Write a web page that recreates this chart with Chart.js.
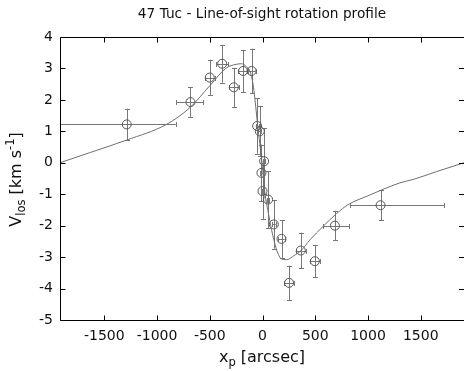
<!DOCTYPE html>
<html>
<head>
<meta charset="utf-8">
<script src="https://cdn.jsdelivr.net/npm/chart.js@4/dist/chart.umd.min.js"></script>
<style>
html,body{margin:0;padding:0;background:#fff;}
#wrap{width:464px;height:371px;position:relative;}
</style>
</head>
<body>
<div id="wrap"><canvas id="c" width="464" height="371"></canvas></div>
<script>
const titleText = "47 Tuc - Line-of-sight rotation profile";
const xVals = [-1287, -683, -500, -383, -272, -184, -104, -51, -26, -10, 0, 15, 53, 107, 180, 252, 363, 496, 686, 1119];
const yVals = [1.22, 1.93, 2.71, 3.15, 2.40, 2.92, 2.92, 1.17, 1.00, -0.32, -0.90, 0.05, -1.17, -1.96, -2.42, -3.82, -2.79, -3.13, -2.00, -1.35];
const yErr  = [0.50, 0.47, 0.57, 0.60, 0.62, 0.67, 0.71, 0.88, 0.80, 0.90, 0.90, 1.05, 0.90, 0.77, 0.60, 0.55, 0.57, 0.51, 0.47, 0.47];
const xLow  = [-2100, -816, -547, -437, -320, -230, -145, -65, -40, -20, -8, 5, 40, 90, 150, 205, 313, 446, 575, 828];
const xHigh = [-822, -564, -453, -326, -225, -140, -65, -37, -12, 0, 8, 25, 66, 124, 210, 300, 413, 546, 819, 1723];
const modelX = [-1920, -1640, -1290, -911, -690, -500, -342, -250, -199, -150, -120, -90, -73, -57, -42, -20, -5, 22, 53, 85, 133, 180, 230, 300, 363, 450, 575, 700, 812, 1000, 1302, 1429, 1650, 1910];
const modelY = [0.00, 0.32, 0.72, 1.22, 1.75, 2.45, 3.02, 3.13, 3.15, 3.05, 2.92, 2.50, 2.05, 1.55, 1.06, 0.45, 0.00, -0.95, -1.55, -2.12, -2.76, -3.06, -3.08, -2.95, -2.80, -2.45, -2.02, -1.62, -1.33, -1.05, -0.64, -0.53, -0.28, 0.00];
const xTicks = [-1500, -1000, -500, 0, 500, 1000, 1500];
const yTicks = [-5, -4, -3, -2, -1, 0, 1, 2, 3, 4];

const FONT = "'DejaVu Sans', 'Liberation Sans', sans-serif";

const framePlugin = {
  id: 'frame',
  beforeDatasetsDraw(chart) {
    const ctx = chart.ctx, a = chart.chartArea;
    const xs = chart.scales.x, ys = chart.scales.y;
    ctx.save();
    ctx.beginPath();
    ctx.rect(a.left, a.top, a.right - a.left, a.bottom - a.top);
    ctx.clip();
    ctx.strokeStyle = '#777';
    ctx.lineWidth = 1;
    ctx.beginPath();
    for (let i = 0; i < xVals.length; i++) {
      const px = xs.getPixelForValue(xVals[i]);
      const py = ys.getPixelForValue(yVals[i]);
      const pyT = ys.getPixelForValue(yVals[i] + yErr[i]);
      const pyB = ys.getPixelForValue(yVals[i] - yErr[i]);
      const pxL = xs.getPixelForValue(xLow[i]);
      const pxR = xs.getPixelForValue(xHigh[i]);
      const cx = Math.round(px) + 0.5, cy = Math.round(py) + 0.5;
      ctx.moveTo(cx, pyT); ctx.lineTo(cx, pyB);
      ctx.moveTo(cx - 2.5, Math.round(pyT) + 0.5); ctx.lineTo(cx + 2.5, Math.round(pyT) + 0.5);
      ctx.moveTo(cx - 2.5, Math.round(pyB) + 0.5); ctx.lineTo(cx + 2.5, Math.round(pyB) + 0.5);
      ctx.moveTo(pxL, cy); ctx.lineTo(pxR, cy);
      ctx.moveTo(Math.round(pxL) + 0.5, cy - 2.5); ctx.lineTo(Math.round(pxL) + 0.5, cy + 2.5);
      ctx.moveTo(Math.round(pxR) + 0.5, cy - 2.5); ctx.lineTo(Math.round(pxR) + 0.5, cy + 2.5);
    }
    ctx.stroke();
    ctx.restore();
  },
  afterDraw(chart) {
    const ctx = chart.ctx, a = chart.chartArea;
    const xs = chart.scales.x, ys = chart.scales.y;
    ctx.save();
    ctx.strokeStyle = '#000';
    ctx.lineWidth = 1;
    const L = a.left + 0.5, R = a.right - 0.5, T = a.top + 0.5, B = a.bottom + 0.5;
    ctx.beginPath();
    ctx.moveTo(L, T); ctx.lineTo(R + 1, T);
    ctx.moveTo(L, T); ctx.lineTo(L, B);
    ctx.moveTo(L, B); ctx.lineTo(R + 1, B);
    const tl = 5;
    xTicks.forEach(v => {
      const p = Math.round(xs.getPixelForValue(v)) + 0.5;
      ctx.moveTo(p, B); ctx.lineTo(p, B - tl);
      ctx.moveTo(p, T); ctx.lineTo(p, T + tl);
    });
    yTicks.forEach(v => {
      const p = Math.round(ys.getPixelForValue(v)) + 0.5;
      ctx.moveTo(L, p); ctx.lineTo(L + tl, p);
      ctx.moveTo(a.right, p); ctx.lineTo(a.right - tl, p);
    });
    ctx.stroke();

    ctx.fillStyle = '#111';
    ctx.textBaseline = 'alphabetic';
    ctx.textAlign = 'center';
    ctx.font = "13.7px " + FONT;
    ctx.fillText(titleText, (a.left + a.right) / 2, 17.5);

    ctx.textAlign = 'left';
    const big = "16px " + FONT, small = "11.5px " + FONT;
    ctx.font = big; const w1 = ctx.measureText('x').width;
    ctx.font = small; const w2 = ctx.measureText('p').width;
    ctx.font = big; const w3 = ctx.measureText(' [arcsec]').width;
    let x0 = (a.left + a.right) / 2 - (w1 + w2 + w3) / 2;
    const by = 362;
    ctx.font = big; ctx.fillText('x', x0, by);
    ctx.font = small; ctx.fillText('p', x0 + w1, by + 4);
    ctx.font = big; ctx.fillText(' [arcsec]', x0 + w1 + w2, by);

    ctx.save();
    ctx.translate(20.5, (a.top + a.bottom) / 2 + 1);
    ctx.rotate(-Math.PI / 2);
    ctx.font = big; const v1 = ctx.measureText('V').width;
    ctx.font = small; const v2 = ctx.measureText('los').width;
    ctx.font = big; const v3 = ctx.measureText(' [km s').width;
    ctx.font = small; const v4 = ctx.measureText('-1').width;
    ctx.font = big; const v5 = ctx.measureText(']').width;
    let s0 = -(v1 + v2 + v3 + v4 + v5) / 2;
    ctx.font = big; ctx.fillText('V', s0, 0); s0 += v1;
    ctx.font = small; ctx.fillText('los', s0, 4); s0 += v2;
    ctx.font = big; ctx.fillText(' [km s', s0, 0); s0 += v3;
    ctx.font = small; ctx.fillText('-1', s0, -7); s0 += v4;
    ctx.font = big; ctx.fillText(']', s0, 0);
    ctx.restore();
    ctx.restore();
  }
};

const pointData = xVals.map((x, i) => ({x: x, y: yVals[i]}));
const modelData = modelX.map((x, i) => ({x: x, y: modelY[i]}));

new Chart(document.getElementById('c'), {
  type: 'scatter',
  data: {
    datasets: [
      { label: 'model', data: modelData, showLine: true, pointRadius: 0, borderColor: '#6e6e6e', borderWidth: 1, cubicInterpolationMode: 'monotone', fill: false },
      { label: 'data', data: pointData, pointStyle: 'circle', pointRadius: 4.5, backgroundColor: 'rgba(0,0,0,0)', borderColor: '#555', borderWidth: 1 }
    ]
  },
  options: {
    responsive: false,
    animation: false,
    devicePixelRatio: 1,
    layout: { autoPadding: false, padding: { top: 37, right: 0, left: 0, bottom: 0 } },
    plugins: { legend: { display: false }, tooltip: { enabled: false }, title: { display: false } },
    scales: {
      x: {
        type: 'linear', min: -1920, max: 1910,
        afterBuildTicks: s => { s.ticks = xTicks.map(v => ({value: v})); },
        afterFit: s => { s.height = 51; s.paddingLeft = 0; s.paddingRight = 0; },
        grid: { display: false, drawTicks: false, tickLength: 0 }, border: { display: false },
        ticks: { color: '#111', font: { family: FONT, size: 14 }, padding: 8, maxRotation: 0, callback: v => String(v) }
      },
      y: {
        type: 'linear', min: -5, max: 4,
        afterBuildTicks: s => { s.ticks = yTicks.map(v => ({value: v})); },
        afterFit: s => { s.width = 60; s.paddingTop = 0; s.paddingBottom = 0; },
        grid: { display: false, drawTicks: false, tickLength: 0 }, border: { display: false },
        ticks: { color: '#111', font: { family: FONT, size: 14 }, padding: 7, callback: v => String(v) }
      }
    }
  },
  plugins: [framePlugin]
});
</script>
</body>
</html>
